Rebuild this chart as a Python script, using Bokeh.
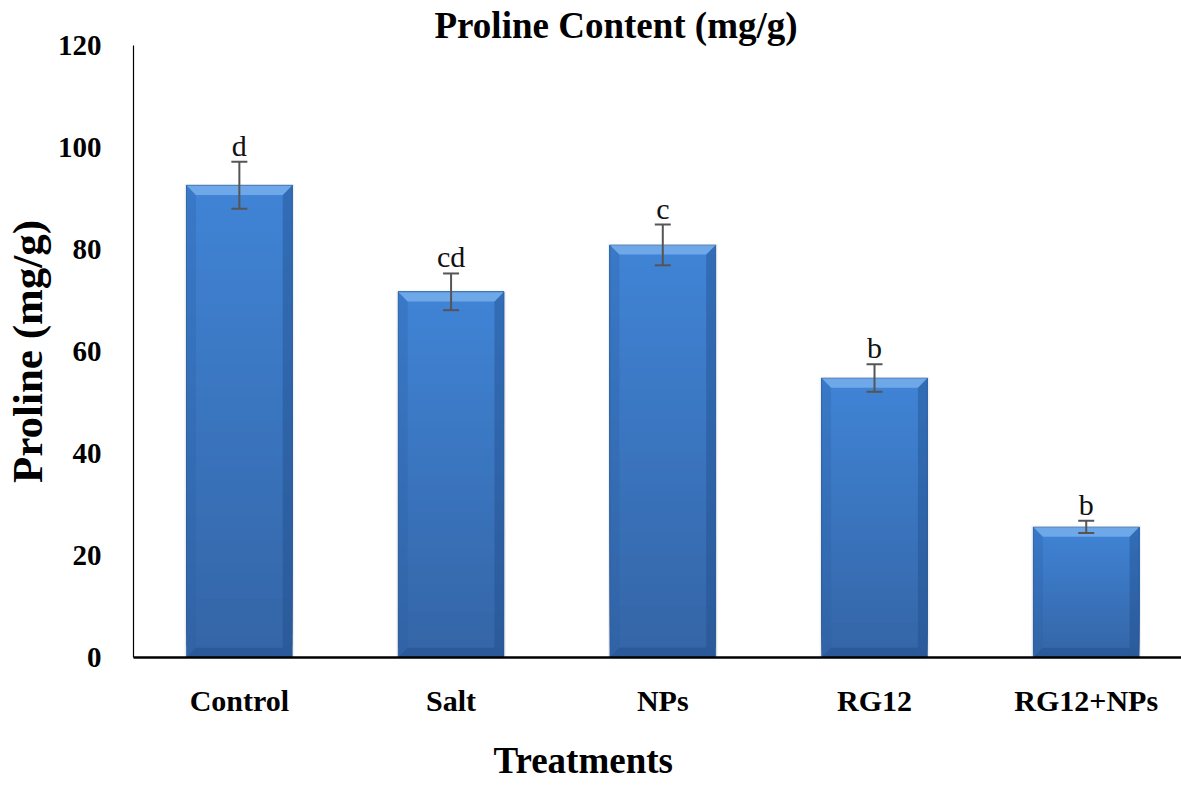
from bokeh.plotting import figure
from bokeh.models import (ColumnDataSource, Range1d, FixedTicker, Whisker, TeeHead, Title)
from bokeh.core.properties import value
from bokeh.embed import file_html
from bokeh.resources import INLINE

# Proline content per treatment (mg/g), standard error and significance letters
categories = ["Control", "Salt", "NPs", "RG12", "RG12+NPs"]
proline = [92.6, 71.7, 80.9, 54.8, 25.6]
sem = [4.6, 3.6, 4.0, 2.7, 1.2]
letters = ["d", "cd", "c", "b", "b"]
y_ticks = [0, 20, 40, 60, 80, 100, 120]

SERIF = "Liberation Serif"
BAR_W = 0.5

idx = list(range(len(categories)))

p = figure(width=1181, height=798, output_backend="svg", toolbar_location=None,
           x_range=Range1d(-0.5, 4.45), y_range=Range1d(0, 120),
           min_border_left=130, min_border_right=0, min_border_top=45,
           min_border_bottom=140)
p.outline_line_color = None
p.xgrid.visible = False
p.ygrid.visible = False
p.background_fill_color = "white"
p.border_fill_color = "white"


def hex_mix(c1, c2, t):
    a = [int(c1[i:i + 2], 16) for i in (1, 3, 5)]
    b = [int(c2[i:i + 2], 16) for i in (1, 3, 5)]
    return "#%02x%02x%02x" % tuple(round(a[k] + (b[k] - a[k]) * t) for k in range(3))


# soft shadow around each bar
p.vbar(x=idx, top=[v + 0.25 for v in proline], bottom=0, width=BAR_W + 0.018,
       fill_color="#808080", fill_alpha=0.12, line_color=None)

# vertical gradient fill: each band runs to the bar top, later bands overlay earlier ones
n_bands = 40
bottom_col, top_col = "#3465a6", "#4084d6"
bx, bb, bt, bc = [], [], [], []
for k in range(n_bands):
    for i, v in zip(idx, proline):
        bx.append(i)
        bb.append(v * k / n_bands)
        bt.append(v)
        bc.append(hex_mix(bottom_col, top_col, (k + 0.5) / n_bands))
p.vbar(x="x", bottom="b", top="t", width=BAR_W, fill_color="c", line_color=None,
       source=ColumnDataSource(dict(x=bx, b=bb, t=bt, c=bc)))

# bevelled edges
ex, ey = 0.045, 1.9
tops, lefts, rights, bottoms = ([], []), ([], []), ([], []), ([], [])
for i, v in zip(idx, proline):
    x0, x1 = i - BAR_W / 2, i + BAR_W / 2
    tops[0].append([x0, x1, x1 - ex, x0 + ex])
    tops[1].append([v, v, v - ey, v - ey])
    lefts[0].append([x0, x0, x0 + ex, x0 + ex])
    lefts[1].append([0, v, v - ey, ey])
    rights[0].append([x1, x1, x1 - ex, x1 - ex])
    rights[1].append([0, v, v - ey, ey])
    bottoms[0].append([x0, x1, x1 - ex, x0 + ex])
    bottoms[1].append([0, 0, ey, ey])
p.patches(lefts[0], lefts[1], fill_color="#2c60a6", fill_alpha=0.30, line_color=None)
p.patches(rights[0], rights[1], fill_color="#1d4a88", fill_alpha=0.40, line_color=None)
p.patches(bottoms[0], bottoms[1], fill_color="#1d4580", fill_alpha=0.35, line_color=None)
p.patches(tops[0], tops[1], fill_color="#7ab2ee", fill_alpha=0.80, line_color=None)
p.vbar(x=idx, top=proline, bottom=0, width=BAR_W, fill_color=None,
       line_color="#2a558f", line_alpha=0.5, line_width=1)

# error bars, drawn over the bars
upper = [v + e for v, e in zip(proline, sem)]
lower = [v - e for v, e in zip(proline, sem)]
err_src = ColumnDataSource(dict(x=idx, upper=upper, lower=lower))
p.add_layout(Whisker(source=err_src, base="x", upper="upper", lower="lower",
                     level="overlay", line_color="#555555", line_width=2,
                     upper_head=TeeHead(size=16, line_color="#555555", line_width=2),
                     lower_head=TeeHead(size=16, line_color="#555555", line_width=2)))

# significance letters sit just above each error bar
p.text(x=idx, y=upper, text=letters, text_font=value(SERIF),
       text_font_size="30px", text_align="center", text_baseline="bottom",
       text_color="#111111")

# axes
p.xaxis.ticker = FixedTicker(ticks=idx)
p.xaxis.major_label_overrides = {i: c for i, c in zip(idx, categories)}
p.xaxis.major_label_text_font = SERIF
p.xaxis.major_label_text_font_style = "bold"
p.xaxis.major_label_text_font_size = "30px"
p.xaxis.major_label_text_color = "black"
p.xaxis.major_label_standoff = 20
p.xaxis.major_tick_line_color = None
p.xaxis.minor_tick_line_color = None
p.xaxis.axis_line_color = "black"
p.xaxis.axis_line_width = 2.5

p.yaxis.ticker = FixedTicker(ticks=y_ticks)
p.yaxis.major_label_text_font = SERIF
p.yaxis.major_label_text_font_style = "bold"
p.yaxis.major_label_text_font_size = "29px"
p.yaxis.major_label_text_color = "black"
p.yaxis.major_label_standoff = 26
p.yaxis.major_tick_line_color = None
p.yaxis.minor_tick_line_color = None
p.yaxis.axis_line_color = "black"
p.yaxis.axis_line_width = 1.2
p.yaxis.axis_label = "Proline (mg/g)"
p.yaxis.axis_label_text_font = SERIF
p.yaxis.axis_label_text_font_style = "bold"
p.yaxis.axis_label_text_font_size = "43px"
p.yaxis.axis_label_text_color = "black"
p.yaxis.axis_label_standoff = 4

# chart title and x-axis title
p.title = Title(text="Proline Content (mg/g)", align="left", offset=301, standoff=0,
                text_font=SERIF, text_font_style="bold", text_font_size="37px",
                text_color="black")
p.add_layout(Title(text="Treatments", align="left", offset=360, standoff=36,
                   vertical_align="bottom",
                   text_font=SERIF, text_font_style="bold", text_font_size="37px",
                   text_color="black"), "below")

open("out.html", "w").write(file_html(p, INLINE))
